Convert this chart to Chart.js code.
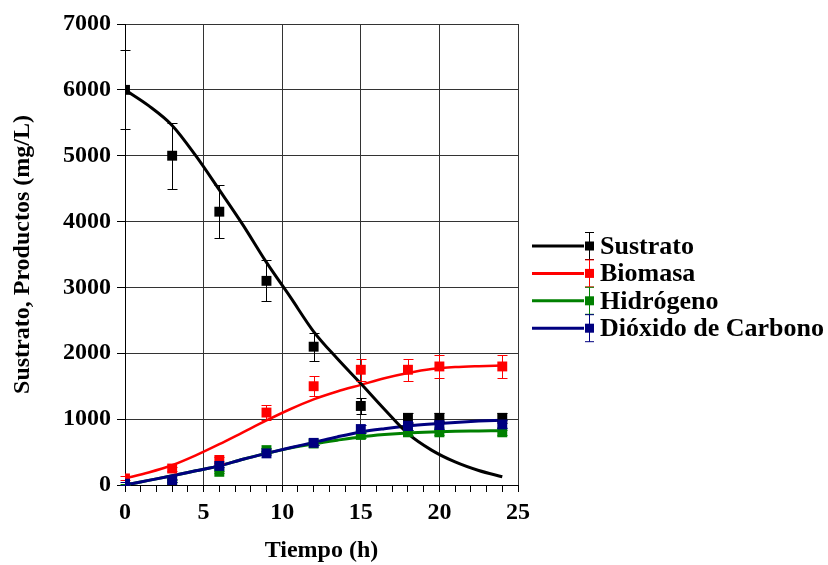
<!DOCTYPE html>
<html><head><meta charset="utf-8">
<script src="https://cdn.jsdelivr.net/npm/chart.js@4"></script>
<style>html,body{margin:0;padding:0;background:#fff;}#wrap{width:828px;height:565px;}</style>
</head><body><div id="wrap"><canvas id="c" width="828" height="565"></canvas></div>
<script>
// ---- data ----
const seriesNames = ['Sustrato', 'Biomasa', 'Hidrógeno', 'Dióxido de Carbono'];
const seriesColors = ['#000000', '#ff0000', '#008000', '#000080'];

const sampleTimes = [0, 3, 6, 9, 12, 15, 18, 20, 24];
const sustrato     = [6000, 5000, 4150, 3100, 2100, 1200, 1020, 1020, 1020];
const sustratoErr  = [600, 500, 400, 310, 210, 120, 80, 80, 80];
const biomasa      = [100, 250, 380, 1100, 1500, 1750, 1750, 1800, 1800];
const biomasaErr   = [30, 30, 40, 110, 150, 170, 170, 180, 180];
const hidrogeno    = [0, 60, 200, 530, 630, 760, 800, 800, 800];
const hidrogenoErr = [20, 20, 20, 30, 30, 40, 40, 40, 40];
const co2          = [20, 70, 290, 480, 640, 850, 900, 910, 920];
const co2Err       = [20, 20, 20, 30, 30, 60, 60, 60, 60];

const curveTimes     = [0, 1.5, 3, 4.5, 6, 7.5, 9, 10.5, 12, 13.5, 15, 16.5, 18, 19.5, 21, 22.5, 24];
const sustratoCurve  = [6000, 5760, 5460, 5000, 4480, 3950, 3380, 2860, 2330, 1920, 1540, 1150, 780, 530, 350, 220, 126];
const biomasaCurve   = [100, 190, 300, 450, 620, 800, 980, 1150, 1300, 1420, 1520, 1620, 1700, 1760, 1790, 1805, 1815];
const hidrogenoCurve = [0, 70, 140, 215, 290, 390, 480, 560, 625, 680, 730, 765, 790, 805, 815, 820, 825];
const co2Curve       = [0, 70, 140, 215, 290, 390, 480, 565, 645, 730, 805, 855, 895, 925, 950, 970, 985];

const xTickStep = 1, xMin = 0, xMax = 25, xLabelEvery = 5;
const yTickStep = 1000, yMin = 0, yMax = 7000;
const xTitle = 'Tiempo (h)';
const yTitle = 'Sustrato, Productos (mg/L)';

// ---- build datasets ----
const pts = (xs, ys) => xs.map((x, i) => ({x: x, y: ys[i]}));
const pointSets = [sustrato, biomasa, hidrogeno, co2];
const errSets = [sustratoErr, biomasaErr, hidrogenoErr, co2Err];
const curveSets = [sustratoCurve, biomasaCurve, hidrogenoCurve, co2Curve];
const pointOrder = [2, 3, 1, 0];
const curveOrder = [4, 7, 6, 5];
const curveWidth = [3, 2.5, 3, 3];

const datasets = [];
seriesNames.forEach((name, i) => {
  datasets.push({
    label: name, type: 'line', showLine: false,
    data: pts(sampleTimes, pointSets[i]),
    errors: errSets[i], errColor: seriesColors[i],
    pointStyle: 'rect', pointRadius: 7, pointHoverRadius: 7,
    pointBackgroundColor: seriesColors[i], pointBorderColor: seriesColors[i], pointBorderWidth: 0,
    borderColor: seriesColors[i], backgroundColor: seriesColors[i],
    order: pointOrder[i]
  });
});
seriesNames.forEach((name, i) => {
  datasets.push({
    label: name + ' (modelo)', type: 'line', showLine: true,
    data: pts(curveTimes, curveSets[i]),
    borderColor: seriesColors[i], borderWidth: curveWidth[i],
    pointRadius: 0, cubicInterpolationMode: 'monotone', fill: false,
    order: curveOrder[i]
  });
});

const FONT = "'Liberation Serif', 'Times New Roman', serif";

const errorBars = {
  id: 'errorBars',
  beforeDatasetDraw(chart, args) {
    const ds = chart.data.datasets[args.index];
    if (!ds.errors) return;
    const xs = chart.scales.x, ys = chart.scales.y, ctx = chart.ctx;
    ctx.save();
    ctx.strokeStyle = ds.errColor; ctx.lineWidth = 1;
    ds.data.forEach((p, i) => {
      const e = ds.errors[i];
      if (!e) return;
      const px = Math.round(xs.getPixelForValue(p.x)) + 0.5;
      const y1 = Math.round(ys.getPixelForValue(p.y + e)) + 0.5;
      const y2 = Math.round(ys.getPixelForValue(Math.max(p.y - e, 0))) + 0.5;
      ctx.beginPath();
      ctx.moveTo(px, y1); ctx.lineTo(px, y2);
      ctx.moveTo(px - 5, y1); ctx.lineTo(px + 5, y1);
      ctx.moveTo(px - 5, y2); ctx.lineTo(px + 5, y2);
      ctx.stroke();
    });
    ctx.restore();
  }
};

const sideLegend = {
  id: 'sideLegend',
  afterDraw(chart) {
    const ctx = chart.ctx;
    const x0 = 532, x1 = 584, mx = 589.5, tx = 600, top = 246, step = 27.4;
    ctx.save();
    seriesNames.forEach((name, i) => {
      const y = top + i * step;
      const c = seriesColors[i];
      ctx.strokeStyle = c; ctx.lineWidth = 3;
      ctx.beginPath(); ctx.moveTo(x0, y); ctx.lineTo(x1, y); ctx.stroke();
      ctx.lineWidth = 1;
      ctx.beginPath();
      ctx.moveTo(mx, y - 13.5); ctx.lineTo(mx, y + 13.5);
      ctx.moveTo(mx - 4.5, y - 13.5); ctx.lineTo(mx + 4.5, y - 13.5);
      ctx.moveTo(mx - 4.5, y + 13.5); ctx.lineTo(mx + 4.5, y + 13.5);
      ctx.stroke();
      ctx.fillStyle = c;
      ctx.fillRect(mx - 4.5, y - 4.5, 9, 9);
      ctx.fillStyle = '#000';
      ctx.font = 'bold 26px ' + FONT;
      ctx.textAlign = 'left'; ctx.textBaseline = 'middle';
      ctx.fillText(name, tx, y + 1);
    });
    ctx.restore();
  }
};

new Chart(document.getElementById('c'), {
  type: 'line',
  data: { datasets: datasets },
  options: {
    responsive: false, animation: false, devicePixelRatio: 1,
    layout: { padding: { left: 0, top: 24, right: 310, bottom: 0 } },
    plugins: { legend: { display: false }, tooltip: { enabled: false } },
    scales: {
      x: {
        type: 'linear', min: xMin, max: xMax,
        afterFit(s) { s.height = 80; },
        ticks: {
          stepSize: xTickStep, autoSkip: false, maxRotation: 0, padding: 6,
          color: '#000', font: { family: FONT, size: 24, weight: 'bold' },
          callback: v => (v % xLabelEvery === 0 ? String(v) : '')
        },
        grid: {
          color: c => (c.tick && c.tick.value % xLabelEvery === 0 ? '#333' : 'rgba(0,0,0,0)'),
          tickColor: '#000', tickLength: 7, tickWidth: 1, lineWidth: 1, drawTicks: true
        },
        border: { color: '#000', width: 1 },
        title: { display: true, text: xTitle, color: '#000', font: { family: FONT, size: 24, weight: 'bold' }, padding: { top: 0, bottom: 0 } }
      },
      y: {
        type: 'linear', min: yMin, max: yMax,
        afterFit(s) { s.width = 125; },
        ticks: {
          stepSize: yTickStep, padding: 6,
          color: '#000', font: { family: FONT, size: 24, weight: 'bold' },
          callback: v => String(v)
        },
        grid: { color: '#333', tickColor: '#000', tickLength: 8, tickWidth: 1, lineWidth: 1 },
        border: { color: '#000', width: 1 },
        title: { display: true, text: yTitle, color: '#000', font: { family: FONT, size: 24, weight: 'bold' }, padding: { top: 8, bottom: 0 } }
      }
    }
  },
  plugins: [errorBars, sideLegend]
});
</script>
</body></html>
